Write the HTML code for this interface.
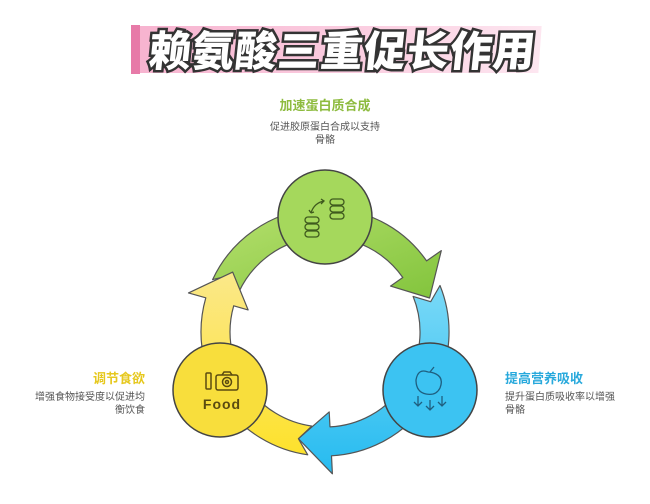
<!DOCTYPE html>
<html><head><meta charset="utf-8"><style>
html,body{margin:0;padding:0;background:#fff;width:650px;height:504px;overflow:hidden;font-family:"Liberation Sans","Noto Sans CJK SC",sans-serif}
.t{position:absolute;font-weight:bold;font-size:13px;white-space:nowrap}
.d{position:absolute;font-size:10px;color:#555;line-height:13px}
</style></head><body>
<div style="position:absolute;left:135px;top:26px;width:405px;height:47px;background:linear-gradient(90deg,#f7b3cf,#fbd0e2 60%,#fde6f0);transform:skewX(-4deg)"></div>
<div style="position:absolute;left:131px;top:25px;width:9px;height:49px;background:#e77aa8"></div>
<svg style="position:absolute;left:0;top:0" width="650" height="504">
<text x="342" y="66" text-anchor="middle" font-family="Noto Sans CJK SC,sans-serif" font-weight="900" font-size="42" fill="#fff" stroke="#333" stroke-width="5" paint-order="stroke" letter-spacing="1" transform="skewX(-6) translate(6,0)">赖氨酸三重促长作用</text>
<defs>
<linearGradient id="gg" x1="0" y1="0" x2="1" y2="1"><stop offset="0" stop-color="#b6e06e"/><stop offset="1" stop-color="#82c43c"/></linearGradient>
<linearGradient id="bg" x1="0" y1="0" x2="0" y2="1"><stop offset="0" stop-color="#7ad9f7"/><stop offset="1" stop-color="#26bbf0"/></linearGradient>
<linearGradient id="yg" x1="0" y1="1" x2="0" y2="0"><stop offset="0" stop-color="#fde22c"/><stop offset="1" stop-color="#fbe88a"/></linearGradient>
</defs>
<g id="arcs" stroke="#555" stroke-width="1.2" stroke-linejoin="round"></g>
<circle cx="325" cy="217" r="47" fill="#a5d85c" stroke="#444" stroke-width="1.5"/>
<circle cx="430" cy="390" r="47" fill="#3cc3f2" stroke="#444" stroke-width="1.5"/>
<circle cx="220" cy="390" r="47" fill="#f8de3c" stroke="#444" stroke-width="1.5"/>
<g fill="none" stroke="#3f5a1e" stroke-width="1.3">
<rect x="330" y="199" width="14" height="6" rx="3"/><rect x="330" y="206" width="14" height="6" rx="3"/><rect x="330" y="213" width="14" height="6" rx="3"/>
<rect x="305" y="217" width="14" height="6" rx="3"/><rect x="305" y="224" width="14" height="6" rx="3"/><rect x="305" y="231" width="14" height="6" rx="3"/>
<path d="M311 213 q3 -10 13 -12 M321 199 l3 2 -3 3 M311 213 l-2 -3 M311 213 l3 -1"/>
</g>
<g fill="none" stroke="#1f5f80" stroke-width="1.3">
<path d="M428 372 q-10 -4 -12 8 q0 12 10 14 q10 2 14 -6 q4 -10 -4 -14 q-4 -2 -8 -2 M430 372 l4 -5"/>
<path d="M418 396 v10 M414 402 l4 4 4 -4 M430 400 v10 M426 406 l4 4 4 -4 M442 396 v10 M438 402 l4 4 4 -4"/>
</g>
<g fill="none" stroke="#5a4a10" stroke-width="1.5">
<rect x="206" y="373" width="5" height="16" rx="1"/>
<rect x="216" y="375" width="22" height="15" rx="2"/><path d="M222 375 l2 -3 h6 l2 3"/>
<circle cx="227" cy="382" r="4.5"/><circle cx="227" cy="382" r="1.5"/>
</g>
<text x="222" y="409" text-anchor="middle" font-size="14" font-weight="bold" fill="#5a4a10" font-family="Liberation Sans,sans-serif" letter-spacing="1">Food</text>
</svg>
<div class="t" style="left:0;width:650px;top:95px;text-align:center;color:#8dbb3e">加速蛋白质合成</div>
<div class="d" style="left:0;width:650px;top:121px;text-align:center">促进胶原蛋白合成以支持<br>骨骼</div>
<div class="t" style="left:505px;top:368px;color:#28a9dc">提高营养吸收</div>
<div class="d" style="left:505px;top:391px">提升蛋白质吸收率以增强<br>骨骼</div>
<div class="t" style="right:505px;top:368px;color:#e6c81e;text-align:right">调节食欲</div>
<div class="d" style="right:505px;top:391px;text-align:right">增强食物接受度以促进均<br>衡饮食</div>
<script>
var cx=325,cy=332,ri=95,ro=124,hi=80,ho=142,hl=17;
function P(r,a){a=a*Math.PI/180;return (cx+r*Math.cos(a)).toFixed(1)+","+(cy+r*Math.sin(a)).toFixed(1);}
function arrow(a0,a1,fill){
 var b=a1-hl;
 var d="M"+P(ro,a0)+" A"+ro+","+ro+" 0 0 1 "+P(ro,b)+" L"+P(ho,b)+" L"+P(110,a1)+" L"+P(hi,b)+" L"+P(ri,b)+" A"+ri+","+ri+" 0 0 0 "+P(ri,a0)+" L"+P(110,a0+6)+" Z";
 return '<path d="'+d+'" fill="'+fill+'"/>';
}
document.getElementById("arcs").innerHTML=arrow(205,342,"url(#gg)")+arrow(-22,104,"url(#bg)")+arrow(98,213,"url(#yg)");
</script>
</body></html>
